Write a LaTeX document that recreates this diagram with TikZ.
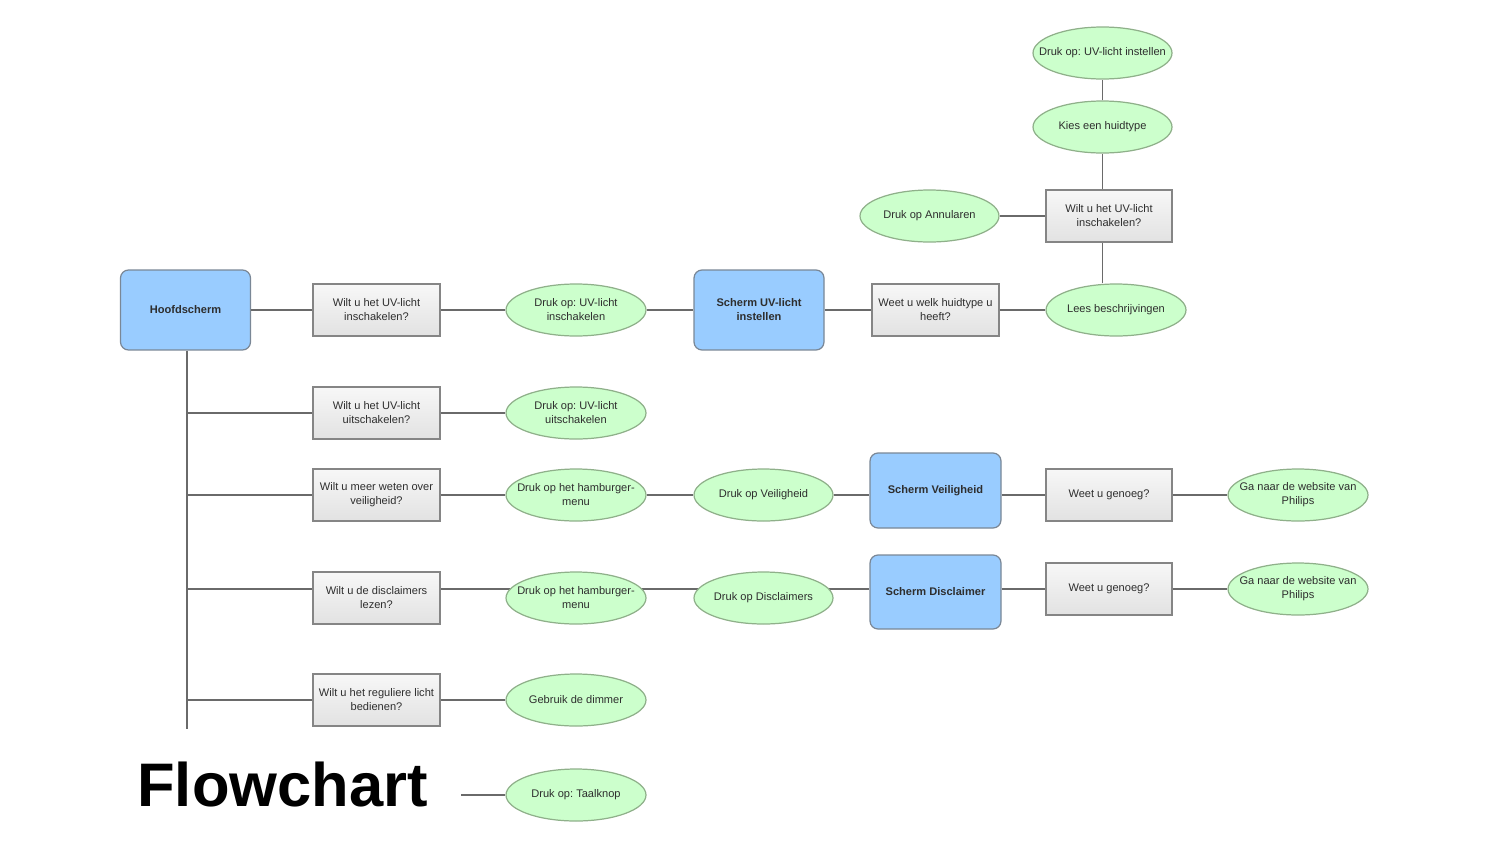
\documentclass[tikz,border=0pt]{standalone}
\usepackage{fontspec}
\setmainfont{Liberation Sans}
\usetikzlibrary{shapes.geometric,backgrounds}

\definecolor{lineGrey}{HTML}{6A6A6A}
\definecolor{boxLine}{HTML}{858585}
\definecolor{qTop}{HTML}{F7F7F7}
\definecolor{qBot}{HTML}{E2E2E2}
\definecolor{ellFill}{HTML}{CCFFCC}
\definecolor{ellLine}{HTML}{8FB08A}
\definecolor{scrFill}{HTML}{99CCFF}
\definecolor{scrLine}{HTML}{7A8796}
\definecolor{txtGrey}{HTML}{2E2E2E}

\newcommand\qfont{\fontsize{6.3}{8}\selectfont}
\newcommand\sfont{\fontsize{6.3}{8}\selectfont\bfseries}
\frenchspacing

\begin{document}
\begin{tikzpicture}[x=0.02cm,y=-0.02cm,
  qbox/.style={rectangle, draw=boxLine, line width=0.7pt, top color=qTop, bottom color=qBot,
    minimum width=2.54cm, minimum height=1.04cm, inner sep=0pt, align=center,
    font=\qfont, text=txtGrey},
  ell/.style={ellipse, draw=ellLine, line width=0.7pt, fill=ellFill,
    minimum width=2.8cm, minimum height=1.04cm, inner sep=0pt},
  etext/.style={align=center, font=\qfont, text=txtGrey, inner sep=0pt},
  scr/.style={rectangle, rounded corners=1.6mm, draw=scrLine, fill=scrFill, line width=0.7pt,
    minimum width=2.6cm, minimum height=1.6cm, inner sep=0pt, align=center,
    font=\sfont, text=txtGrey},
  conn/.style={draw=lineGrey, line width=1.1pt}]

\useasboundingbox (0,0) rectangle (1500,845);

% ---------- main row ----------
\node[scr] (H) at (185.5,310) {Hoofdscherm};
\node[qbox] (Q1) at (376.5,310) {Wilt u het UV-licht\\inschakelen?};
\node[ell] (E1) at (576,310) {};
\node[etext] (E1t) at (E1) {Druk op: UV-licht\\inschakelen};
\node[scr] (S1) at (759,310) {Scherm UV-licht\\instellen};
\node[qbox] (Q2) at (935.5,310) {Weet u welk huidtype u\\heeft?};
\node[ell] (E2) at (1116,310) {};
\node[etext] (E2t) at (E2) {Lees beschrijvingen};

% ---------- upper branch ----------
\node[qbox, minimum width=2.52cm] (Q3) at (1109,216) {Wilt u het UV-licht\\inschakelen?};
\node[ell, minimum width=2.78cm] (E3) at (929.5,216) {};
\node[etext] (E3t) at (E3) {Druk op Annularen};
\node[ell, minimum width=2.78cm] (E4) at (1102.5,127) {};
\node[etext] (E4t) at (E4) {Kies een huidtype};
\node[ell, minimum width=2.78cm] (E5) at (1102.5,53) {};
\node[etext] (E5t) at (E5) {Druk op: UV-licht instellen};

% ---------- row 2 ----------
\node[qbox] (Q4) at (376.5,413) {Wilt u het UV-licht\\uitschakelen?};
\node[ell] (E6) at (576,413) {};
\node[etext] (E6t) at (E6) {Druk op: UV-licht\\uitschakelen};

% ---------- row 3 ----------
\node[qbox] (Q5) at (376.5,495) {Wilt u meer weten over\\veiligheid?};
\node[ell] (E7) at (576,495) {};
\node[etext] (E7t) at (E7) {Druk op het hamburger-\\menu};
\node[ell, minimum width=2.78cm] (E8) at (763.5,495) {};
\node[etext] (E8t) at (E8) {Druk op Veiligheid};
\node[scr, minimum width=2.62cm, minimum height=1.5cm] (S2) at (935.5,490.5) {Scherm Veiligheid};
\node[qbox, minimum width=2.52cm] (Q6) at (1109,495) {Weet u genoeg?};
\node[ell] (E9) at (1298,495) {};
\node[etext] (E9t) at (E9) {Ga naar de website van\\Philips};

% ---------- row 4 ----------
\node[qbox] (Q7) at (376.5,598) {Wilt u de disclaimers\\lezen?};
\node[ell] (E10) at (576,598) {};
\node[etext] (E10t) at (E10) {Druk op het hamburger-\\menu};
\node[ell, minimum width=2.78cm] (E11) at (763.5,598) {};
\node[etext] (E11t) at (E11) {Druk op Disclaimers};
\node[scr, minimum width=2.62cm, minimum height=1.48cm] (S3) at (935.5,592) {Scherm Disclaimer};
\node[qbox, minimum width=2.52cm] (Q8) at (1109,589) {Weet u genoeg?};
\node[ell] (E12) at (1298,589) {};
\node[etext] (E12t) at (E12) {Ga naar de website van\\Philips};

% ---------- row 5 ----------
\node[qbox] (Q9) at (376.5,700) {Wilt u het reguliere licht\\bedienen?};
\node[ell] (E13) at (576,700) {};
\node[etext] (E13t) at (E13) {Gebruik de dimmer};

% ---------- title ----------
\node[anchor=base west, inner sep=0pt, font=\fontsize{35}{40}\selectfont\bfseries] (T) at (137,806) {Flowchart};
\node[ell] (E14) at (576,795) {};
\node[etext] (E14t) at (E14) {Druk op: Taalknop};
\coordinate (tstart) at (461,795);

% ---------- helper coordinates ----------
\coordinate (trunkend) at (187,729);
\coordinate (L4) at (0,589);

% ---------- connectors ----------
\draw[conn] (H) -- (Q1) -- (E1) -- (S1) -- (Q2) -- (E2);
\draw[conn] (E4 |- E2.north) -- (E4 |- Q3.south);
\draw[conn] (Q3) -- (E3);
\draw[conn] (E4 |- Q3.north) -- (E4.south);
\draw[conn] (E4) -- (E5);

\draw[conn] (H.south -| trunkend) -- (trunkend);
\draw[conn] (trunkend |- Q4) -- (Q4.west);
\draw[conn] (Q4) -- (E6);

\draw[conn] (trunkend |- Q5) -- (Q5.west);
\draw[conn] (Q5) -- (E7) -- (E8);
\draw[conn] (E8.east) -- (S2.west |- E8);
\draw[conn] (S2.east |- E8) -- (Q6.west);
\draw[conn] (Q6) -- (E9);

% the disclaimer row runs above the centres of its first nodes;
% its pieces sit behind the filled ellipses
\draw[conn] (trunkend |- L4) -- (Q7.west |- L4);
\begin{pgfonlayer}{background}
  \draw[conn] (Q7.east |- L4) -- (E10 |- L4);
  \draw[conn] (E10 |- L4) -- (E11 |- L4);
  \draw[conn] (E11 |- L4) -- (S3.west |- L4);
\end{pgfonlayer}
\draw[conn] (S3.east |- L4) -- (Q8.west);
\draw[conn] (Q8) -- (E12);

\draw[conn] (trunkend |- Q9) -- (Q9.west);
\draw[conn] (Q9) -- (E13);

\draw[conn] (tstart) -- (E14.west);
\end{tikzpicture}
\end{document}
